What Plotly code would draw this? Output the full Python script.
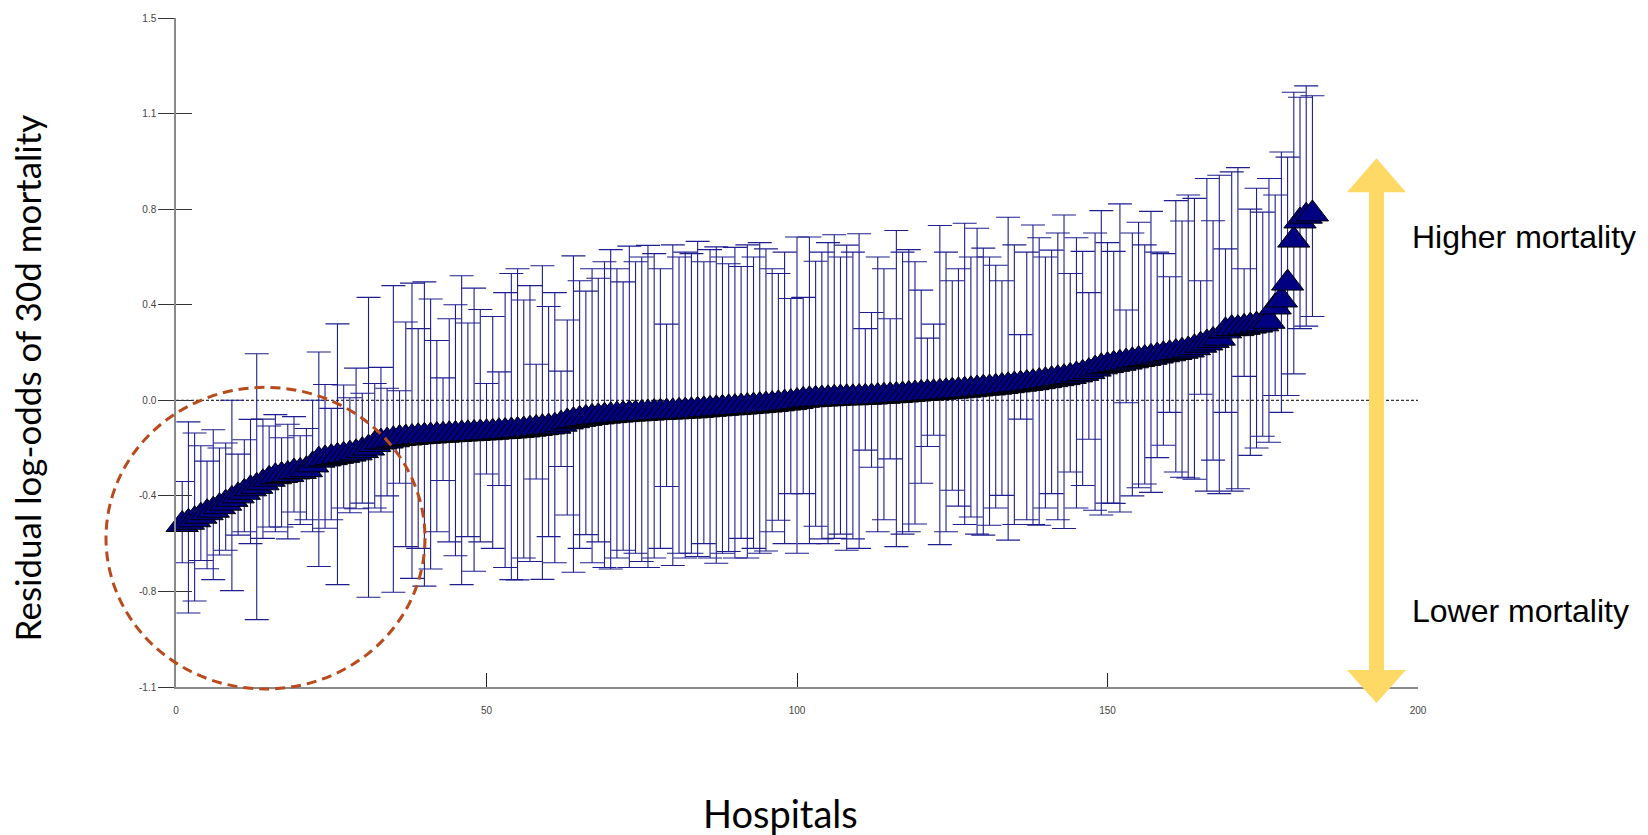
import plotly.graph_objects as go

# ---------------- data ----------------
hospital = list(range(1, 184))

estimate = [
    -0.494, -0.485, -0.475, -0.461, -0.447, -0.437, -0.423, -0.409, -0.394, -0.38,
    -0.366, -0.352, -0.342, -0.328, -0.314, -0.304, -0.299, -0.295, -0.285, -0.283,
    -0.276, -0.257, -0.238, -0.233, -0.228, -0.223, -0.219, -0.214, -0.209, -0.2,
    -0.19, -0.176, -0.166, -0.162, -0.157, -0.152, -0.15, -0.148, -0.145, -0.143,
    -0.142, -0.14, -0.139, -0.137, -0.136, -0.134, -0.133, -0.132, -0.13, -0.129,
    -0.127, -0.125, -0.124, -0.122, -0.12, -0.118, -0.115, -0.112, -0.109, -0.106,
    -0.103, -0.095, -0.086, -0.081, -0.076, -0.072, -0.068, -0.066, -0.063, -0.061,
    -0.059, -0.057, -0.055, -0.054, -0.052, -0.051, -0.049, -0.048, -0.047, -0.046,
    -0.044, -0.043, -0.042, -0.04, -0.038, -0.036, -0.034, -0.032, -0.03, -0.029,
    -0.027, -0.025, -0.023, -0.021, -0.019, -0.017, -0.014, -0.011, -0.009, -0.005,
    0.0, 0.002, 0.004, 0.005, 0.006, 0.008, 0.009, 0.01, 0.01, 0.011,
    0.012, 0.013, 0.015, 0.016, 0.018, 0.019, 0.021, 0.023, 0.025, 0.027,
    0.029, 0.03, 0.032, 0.034, 0.036, 0.038, 0.04, 0.042, 0.045, 0.048,
    0.049, 0.052, 0.055, 0.058, 0.061, 0.064, 0.067, 0.07, 0.074, 0.078,
    0.082, 0.086, 0.09, 0.095, 0.101, 0.107, 0.114, 0.124, 0.133, 0.138,
    0.143, 0.147, 0.152, 0.157, 0.162, 0.166, 0.171, 0.176, 0.181, 0.185,
    0.19, 0.195, 0.2, 0.209, 0.219, 0.228, 0.238, 0.247, 0.276, 0.285,
    0.285, 0.29, 0.295, 0.299, 0.304, 0.314, 0.371, 0.399, 0.466, 0.637,
    0.713, 0.732, 0.741,
]

upper = [
    -0.323, -0.086, -0.13, -0.181, -0.242, -0.117, -0.19, -0.17, 0.0, -0.214,
    -0.157, -0.076, 0.185, -0.075, -0.102, -0.057, -0.149, -0.095, -0.065, -0.141,
    -0.112, 0.0, 0.192, 0.063, -0.032, 0.304, 0.061, 0.01, 0.128, 0.028,
    0.409, 0.067, 0.131, 0.048, 0.456, 0.038, 0.311, 0.466, 0.285, 0.471,
    0.403, 0.238, 0.089, 0.324, 0.38, 0.495, 0.307, 0.446, 0.361, 0.067,
    0.333, 0.113, 0.428, 0.504, 0.523, 0.399, 0.456, 0.143, 0.535, 0.373,
    0.428, 0.116, 0.319, 0.574, 0.475, 0.434, 0.523, 0.485, 0.551, 0.599,
    0.523, 0.471, 0.613, 0.551, 0.57, 0.616, 0.583, 0.523, 0.303, 0.618,
    0.57, 0.589, 0.583, 0.632, 0.551, 0.599, 0.61, 0.57, 0.543, 0.608,
    0.532, 0.618, 0.57, 0.627, 0.602, 0.523, 0.504, 0.589, 0.405, 0.649,
    0.409, 0.649, 0.553, 0.589, 0.627, 0.658, 0.57, 0.617, 0.589, 0.662,
    0.285, 0.349, 0.57, 0.523, 0.324, 0.675, 0.589, 0.599, 0.551, 0.438,
    0.247, 0.303, 0.695, 0.589, 0.475, 0.523, 0.704, 0.57, 0.684, 0.605,
    0.57, 0.537, 0.475, 0.728, 0.618, 0.261, 0.589, 0.697, 0.646, 0.57,
    0.597, 0.665, 0.737, 0.504, 0.646, 0.592, 0.428, 0.665, 0.754, 0.627,
    0.592, 0.781, 0.359, 0.665, 0.708, 0.618, 0.751, 0.589, 0.583, 0.491,
    0.794, 0.713, 0.816, 0.803, 0.475, 0.882, 0.714, 0.895, 0.602, 0.908,
    0.925, 0.523, 0.76, 0.843, 0.748, 0.882, 0.816, 0.987, 0.967, 1.225,
    1.205, 1.25, 1.211,
]

lower = [
    -0.646, -0.846, -0.798, -0.637, -0.67, -0.713, -0.615, -0.596, -0.757, -0.536,
    -0.523, -0.57, -0.872, -0.549, -0.504, -0.523, -0.504, -0.551, -0.444, -0.494,
    -0.475, -0.523, -0.661, -0.509, -0.475, -0.733, -0.428, -0.447, -0.431, -0.409,
    -0.783, -0.428, -0.444, -0.38, -0.763, -0.33, -0.582, -0.708, -0.589, -0.739,
    -0.671, -0.523, -0.319, -0.563, -0.618, -0.733, -0.542, -0.68, -0.563, -0.293,
    -0.589, -0.339, -0.665, -0.713, -0.714, -0.627, -0.641, -0.313, -0.712, -0.542,
    -0.646, -0.263, -0.456, -0.684, -0.589, -0.534, -0.646, -0.563, -0.665, -0.671,
    -0.627, -0.596, -0.665, -0.608, -0.641, -0.665, -0.627, -0.589, -0.343, -0.657,
    -0.608, -0.627, -0.608, -0.621, -0.57, -0.627, -0.648, -0.608, -0.601, -0.627,
    -0.549, -0.627, -0.589, -0.608, -0.599, -0.523, -0.477, -0.57, -0.371, -0.608,
    -0.371, -0.57, -0.501, -0.551, -0.57, -0.549, -0.532, -0.596, -0.551, -0.589,
    -0.198, -0.266, -0.523, -0.475, -0.233, -0.582, -0.532, -0.523, -0.492, -0.33,
    -0.184, -0.139, -0.574, -0.523, -0.358, -0.421, -0.494, -0.464, -0.532, -0.536,
    -0.497, -0.428, -0.378, -0.556, -0.494, -0.075, -0.475, -0.494, -0.497, -0.428,
    -0.371, -0.475, -0.51, -0.285, -0.428, -0.339, -0.155, -0.437, -0.456, -0.409,
    -0.41, -0.444, -0.01, -0.38, -0.348, -0.333, -0.366, -0.228, -0.179, -0.048,
    -0.285, -0.306, -0.309, -0.314, 0.024, -0.361, -0.238, -0.371, -0.048, -0.361,
    -0.352, 0.095, -0.219, -0.19, -0.143, -0.167, 0.019, -0.048, 0.019, 0.105,
    0.285, 0.295, 0.333,
]

x_ticks = [0, 50, 100, 150, 200]
y_ticks = [-1.14, -0.76, -0.38, 0.0, 0.38, 0.76, 1.14, 1.52]
y_tick_labels = ["-1.1", "-0.8", "-0.4", "0.0", "0.4", "0.8", "1.1", "1.5"]

x_title = "Hospitals"
y_title = "Residual log-odds of 30d mortality"
label_high = "Higher mortality"
label_low = "Lower mortality"

# ---------------- figure ----------------
err_plus = [u - e for u, e in zip(upper, estimate)]
err_minus = [e - l for l, e in zip(lower, estimate)]

fig = go.Figure()

fig.add_trace(go.Scatter(
    x=hospital, y=estimate, mode="markers",
    marker=dict(symbol="triangle-up", size=28, color="#000080",
                line=dict(color="#000000", width=1)),
    error_y=dict(type="data", symmetric=False, array=err_plus,
                 arrayminus=err_minus, color="#1e1e90", thickness=1.1, width=12),
    showlegend=False, hoverinfo="skip", cliponaxis=False,
))
# helper trace so the mirrored tick axis is drawn
fig.add_trace(go.Scatter(x=[None], y=[None], yaxis="y2", showlegend=False,
                         hoverinfo="skip"))

W, H = 1648, 835
L, R, T, B = 176, 230, 15, 148
PW, PH = W - L - R, H - T - B


def px(xp):
    return (xp - L) / PW


def py(yp):
    return (H - B - yp) / PH


shapes = []
# zero reference line
shapes.append(dict(type="line", xref="x", yref="y", x0=0, x1=200, y0=0, y1=0,
                   line=dict(color="black", width=1, dash="3px,2px"), layer="below"))
# dashed circle highlighting low-mortality hospitals
shapes.append(dict(type="circle", xref="paper", yref="paper",
                   x0=px(106), x1=px(425), y0=py(689), y1=py(386),
                   line=dict(color="#B84A1C", width=3, dash="10px,6px"), layer="above"))
# yellow double arrow
pts = [(1376.5, 156), (1406, 190), (1384, 190), (1384, 670), (1406, 670),
       (1376.5, 703), (1347, 670), (1369, 670), (1369, 190), (1347, 190)]
path = "M " + " L ".join(f"{px(a):.5f},{py(b):.5f}" for a, b in pts) + " Z"
shapes.append(dict(type="path", xref="paper", yref="paper", path=path,
                   fillcolor="#FFD966", line=dict(width=0), layer="above"))

annotations = [
    dict(text=label_high, x=px(1410), y=py(235), xref="paper", yref="paper",
         xanchor="left", yanchor="middle", showarrow=False,
         font=dict(family="Liberation Sans, Arial", size=32, color="black")),
    dict(text=label_low, x=px(1410), y=py(611), xref="paper", yref="paper",
         xanchor="left", yanchor="middle", showarrow=False,
         font=dict(family="Liberation Sans, Arial", size=32, color="black")),
    dict(text=x_title, x=px(780), y=py(814), xref="paper", yref="paper",
         xanchor="center", yanchor="middle", showarrow=False,
         font=dict(family="Lato", size=38, color="black")),
    dict(text=y_title, x=px(27), y=py(377), xref="paper", yref="paper",
         xanchor="center", yanchor="middle", showarrow=False, textangle=-90,
         font=dict(family="Lato", size=35, color="black")),
]

fig.update_layout(
    width=W, height=H, autosize=False,
    margin=dict(l=L, r=R, t=T, b=B, pad=0),
    paper_bgcolor="white", plot_bgcolor="white",
    shapes=shapes, annotations=annotations,
    xaxis=dict(range=[0, 200], tickvals=x_ticks, ticks="inside", ticklen=14,
               tickcolor="#222222", tickwidth=1, showline=True, linecolor="#8a8a8a",
               linewidth=1.5, showgrid=False, zeroline=False, ticklabelstandoff=13,
               tickfont=dict(family="Liberation Sans, Arial", size=10, color="#444444")),
    yaxis=dict(range=[-1.14, 1.52], tickvals=y_ticks, ticktext=y_tick_labels,
               ticks="outside", ticklen=16, tickcolor="#333333", tickwidth=1,
               showline=True, linecolor="#8a8a8a", linewidth=1.5, showgrid=False,
               zeroline=False,
               tickfont=dict(family="Liberation Sans, Arial", size=10, color="#444444")),
    yaxis2=dict(range=[-1.14, 1.52], tickvals=y_ticks, overlaying="y", side="left",
                anchor="x", ticks="inside", ticklen=16, tickcolor="#333333",
                tickwidth=1, showticklabels=False, showline=False, showgrid=False,
                zeroline=False),
)

fig.write_html(
    "out.html",
    config={"displayModeBar": False},
    post_script="document.body.style.margin='0';document.body.style.overflow='hidden';",
)
